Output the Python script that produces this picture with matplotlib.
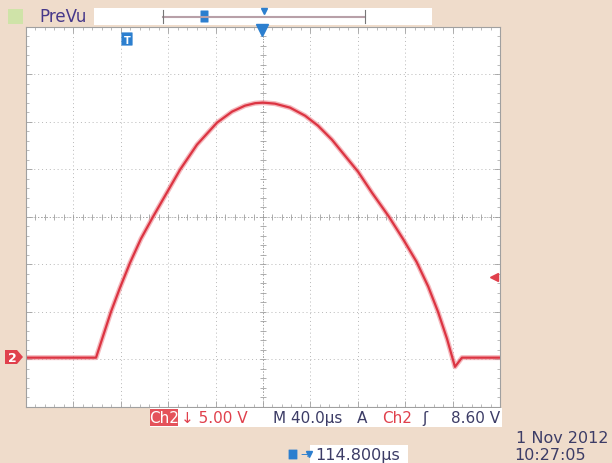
import numpy as np
import matplotlib
matplotlib.use("Agg")
from matplotlib import pyplot as plt
from matplotlib.patches import Rectangle, Polygon, FancyBboxPatch

# trace (time in us from left edge, volts from centre line)
t_us = [0, 59.1, 71.7, 79.3, 87.8, 97.0, 107.2, 130.0, 144.3, 161.2,
        173.9, 184.8, 193.3, 200.0, 210.1, 222.8, 235.5, 246.4, 258.2, 269.2,
        280.2, 292.0, 306.3, 318.1, 329.6, 339.4, 347.7, 355.3, 362.0, 367.9, 400]
volts = [-14.85, -14.85, -10.02, -7.49, -4.85, -2.32, 0.0, 4.96, 7.60, 9.92,
         11.08, 11.71, 11.97, 12.03, 11.92, 11.50, 10.65, 9.60, 8.12, 6.43,
         4.75, 2.53, 0.0, -2.33, -4.75, -7.35, -10.02, -12.87, -15.82, -14.85, -14.85]

ch_label = "Ch2"
scale_txt = "\u2193 5.00 V"
time_txt = "M 40.0\u00b5s"
trig_lvl = "8.60 V"
hpos_txt = "114.800\u00b5s"
date_txt = "1 Nov 2012"
clock_txt = "10:27:05"

W, H = 612, 464
beige = "#EFDCCB"
red = "#E0404C"
blue = "#2C7FCF"
dark = "#3C3C66"

fig = plt.figure(figsize=(W / 100, H / 100), dpi=100)
fig.patch.set_facecolor(beige)

# graticule: 10 x 8 divisions
L, R, T, B = 26, 500, 28, 407.5
ax = fig.add_axes([L / W, 1 - B / H, (R - L) / W, (B - T) / H])
ax.set_facecolor("white")
ax.set_xlim(0, 400)
ax.set_ylim(-20, 20)
ax.set_xticks(np.arange(0, 401, 40))
ax.set_yticks(np.arange(-20, 21, 5))
ax.set_xticks(np.arange(0, 401, 8), minor=True)
ax.set_yticks(np.arange(-20, 21, 1), minor=True)
ax.tick_params(which="both", direction="in", top=True, right=True,
               labelbottom=False, labelleft=False, color="#A0A0A0")
ax.tick_params(which="major", length=4, width=0.6)
ax.tick_params(which="minor", length=2.5, width=0.5)
for s in ax.spines.values():
    s.set_color("#A0A0A0")
    s.set_linewidth(0.8)
ax.grid(True, which="major", linestyle=(0, (1, 3)), color="#B8B8B8", linewidth=0.7)
# centre cross with small ticks
ax.axhline(0, color="#A0A0A0", linestyle=(0, (1, 2)), linewidth=0.7)
ax.axvline(200, color="#A0A0A0", linestyle=(0, (1, 2)), linewidth=0.7)
ax.plot(np.arange(0, 401, 8), np.zeros(51), linestyle="none", marker="|",
        markersize=4, color="#A0A0A0", markeredgewidth=0.6)
ax.plot(np.full(41, 200), np.arange(-20, 21, 1), linestyle="none", marker="_",
        markersize=4, color="#A0A0A0", markeredgewidth=0.6)

ax.plot(t_us, volts, color="#EE8A92", linewidth=3.6, alpha=0.6, solid_joinstyle="round")
ax.plot(t_us, volts, color="#DC3442", linewidth=1.6, solid_joinstyle="round")

# overlay in pixel coords for the scope readouts
ov = fig.add_axes([0, 0, 1, 1], zorder=5)
ov.set_xlim(0, W)
ov.set_ylim(H, 0)
ov.axis("off")
ov.patch.set_alpha(0)

# top bar
ov.add_patch(Rectangle((94, 9), 338, 17, facecolor="white", edgecolor="none"))
ov.add_patch(Rectangle((8, 10), 15, 15, facecolor="#CFE3A8", edgecolor="none"))
ov.text(39, 17.5, "PreVu", fontsize=12, color="#46388A", va="center", ha="left")
ov.plot([163, 365], [17.5, 17.5], color="#B8A0A8", linewidth=1.5)
ov.plot([163, 163], [11, 24], color="#777777", linewidth=0.8)
ov.plot([365, 365], [11, 24], color="#777777", linewidth=0.8)
ov.add_patch(FancyBboxPatch((201, 12), 7, 11, boxstyle="round,pad=0.5",
                            facecolor=blue, edgecolor="none"))
ov.plot([264], [12], marker="v", markersize=4, color=blue)

# markers on the graticule
ov.plot([262], [31], marker="v", markersize=8, color=blue)
ov.add_patch(FancyBboxPatch((122, 34), 10, 12, boxstyle="round,pad=0.6",
                            facecolor=blue, edgecolor="none"))
ov.text(127, 40.5, "T", fontsize=7, color="white", weight="bold", ha="center", va="center")
ov.add_patch(Polygon([(5, 351), (17, 351), (23, 358), (17, 365), (5, 365)],
                     closed=True, facecolor=red, edgecolor="none"))
ov.text(12, 358.5, "2", fontsize=9, color="white", weight="bold", ha="center", va="center")
ov.plot([494], [278], marker="<", markersize=6, color=red)

# bottom readouts
ov.add_patch(Rectangle((150, 409), 352, 19, facecolor="white", edgecolor="none"))
ov.add_patch(Rectangle((150, 410), 28, 17, facecolor="#E4525A", edgecolor="none"))
ov.text(164, 419, ch_label, fontsize=11, color="white", ha="center", va="center")
ov.text(181, 419, scale_txt, fontsize=11, color=red, ha="left", va="center")
ov.text(273, 419, time_txt, fontsize=11, color=dark, ha="left", va="center")
ov.text(357, 419, "A", fontsize=11, color=dark, ha="left", va="center")
ov.text(382, 419, ch_label, fontsize=11, color=red, ha="left", va="center")
ov.text(425, 419, "\u0283", fontsize=11, color=dark, ha="center", va="center")
ov.text(500, 419, trig_lvl, fontsize=11, color=dark, ha="right", va="center")

ov.add_patch(Rectangle((310, 446), 98, 18, facecolor="white", edgecolor="none"))
ov.add_patch(FancyBboxPatch((289, 451), 8, 9, boxstyle="round,pad=0.4",
                            facecolor=blue, edgecolor="none"))
ov.text(300, 455.5, "\u2192", fontsize=8, color=blue, ha="left", va="center")
ov.plot([309], [455], marker="v", markersize=5, color=blue)
ov.text(315, 455.5, hpos_txt, fontsize=11.5, color=dark, ha="left", va="center")
ov.text(609, 439, date_txt, fontsize=11.5, color=dark, ha="right", va="center")
ov.text(514, 456, clock_txt, fontsize=11.5, color=dark, ha="left", va="center")

fig.savefig("out.png", dpi=100, facecolor=fig.get_facecolor())
